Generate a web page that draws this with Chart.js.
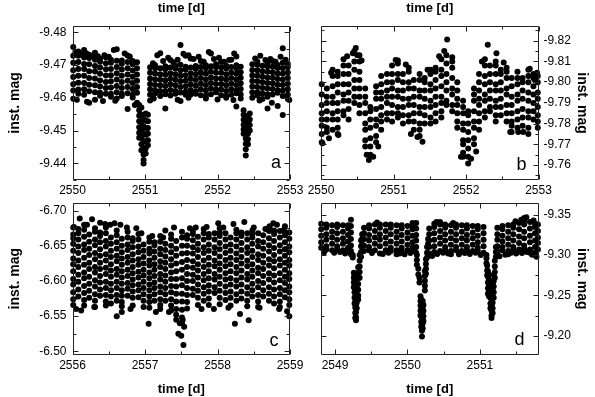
<!DOCTYPE html>
<html>
<head>
<meta charset="utf-8">
<script src="https://cdn.jsdelivr.net/npm/chart.js@4.4.1/dist/chart.umd.min.js"></script>
<style>
  html, body { margin: 0; padding: 0; background: #fff; }
  #wrap { position: relative; width: 595px; height: 397px; }
  #wrap canvas { position: absolute; left: 0; top: 0; }
</style>
</head>
<body>
<div id="wrap">
  <canvas id="panelA" width="595" height="397"></canvas>
  <canvas id="panelB" width="595" height="397"></canvas>
  <canvas id="panelC" width="595" height="397"></canvas>
  <canvas id="panelD" width="595" height="397"></canvas>
</div>
<script>
// ======================
// Panel a: time [d] vs inst. mag
// ======================
const xRangeA = [2550, 2553];
const yRangeA = [-9.4819, -9.4349];
const xTicksA = [2550, 2551, 2552, 2553];
const yTicksA = [-9.48, -9.47, -9.46, -9.45, -9.44];
const timeA = [
  2550.01, 2550.08, 2550.16, 2550.23, 2550.31, 2550.38, 2550.46, 2550.53, 2550.61, 2550.68, 2550.76, 2550.83, 2550.89,
  2550.92, 2550.95, 2550.98, 2551.01, 2551.04,
  2551.07, 2551.14, 2551.21, 2551.28, 2551.35, 2551.42, 2551.49, 2551.56, 2551.63, 2551.70, 2551.77, 2551.84, 2551.91, 2551.98, 2552.05, 2552.12, 2552.19, 2552.26, 2552.32,
  2552.36, 2552.39, 2552.42, 2552.445,
  2552.48, 2552.55, 2552.62, 2552.69, 2552.76, 2552.83, 2552.90, 2552.97
];
const magA = [
  [-9.4755, -9.4728, -9.4707, -9.4684, -9.4663, -9.4641, -9.4622, -9.4597],
  [-9.4741, -9.4728, -9.4709, -9.4688, -9.4667, -9.4646, -9.4625, -9.4612],
  [-9.4746, -9.4723, -9.4703, -9.4688, -9.4667, -9.4645, -9.4626, -9.4609],
  [-9.4731, -9.4721, -9.4702, -9.4681, -9.4660, -9.4640, -9.4620, -9.4585],
  [-9.4737, -9.4716, -9.4697, -9.4680, -9.4659, -9.4638, -9.4617, -9.4594],
  [-9.4719, -9.4710, -9.4692, -9.4673, -9.4653, -9.4634, -9.4615, -9.4606],
  [-9.4724, -9.4705, -9.4687, -9.4668, -9.4648, -9.4630, -9.4612],
  [-9.4716, -9.4707, -9.4688, -9.4669, -9.4650, -9.4631, -9.4612, -9.4603],
  [-9.4748, -9.4713, -9.4694, -9.4675, -9.4656, -9.4636, -9.4617, -9.4598],
  [-9.4714, -9.4704, -9.4686, -9.4667, -9.4648, -9.4630, -9.4612, -9.4605],
  [-9.4729, -9.4709, -9.4690, -9.4671, -9.4652, -9.4633, -9.4614, -9.4566],
  [-9.4712, -9.4702, -9.4683, -9.4664, -9.4645, -9.4627, -9.4609, -9.4601],
  [-9.4708, -9.4690, -9.4671, -9.4652, -9.4633, -9.4615, -9.4585],
  [-9.4578, -9.4562, -9.4545, -9.4528, -9.4510, -9.4493, -9.4478],
  [-9.4570, -9.4548, -9.4525, -9.4500, -9.4478, -9.4458, -9.4440],
  [-9.4535, -9.4512, -9.4490, -9.4468, -9.4447, -9.4427, -9.4410, -9.4399],
  [-9.4552, -9.4530, -9.4508, -9.4487, -9.4466, -9.4446, -9.4430],
  [-9.4548, -9.4528, -9.4508, -9.4490, -9.4470, -9.4455],
  [-9.4693, -9.4676, -9.4659, -9.4642, -9.4626, -9.4609, -9.4592],
  [-9.4699, -9.4690, -9.4673, -9.4656, -9.4639, -9.4622, -9.4614],
  [-9.4736, -9.4690, -9.4672, -9.4655, -9.4638, -9.4621, -9.4605],
  [-9.4696, -9.4687, -9.4670, -9.4653, -9.4636, -9.4619, -9.4611, -9.4567],
  [-9.4715, -9.4692, -9.4675, -9.4658, -9.4641, -9.4624, -9.4607],
  [-9.4698, -9.4689, -9.4672, -9.4655, -9.4638, -9.4621, -9.4612],
  [-9.4761, -9.4701, -9.4684, -9.4667, -9.4650, -9.4633, -9.4616, -9.4590],
  [-9.4728, -9.4695, -9.4686, -9.4669, -9.4652, -9.4635, -9.4618, -9.4609],
  [-9.4720, -9.4692, -9.4675, -9.4658, -9.4641, -9.4624, -9.4610],
  [-9.4697, -9.4688, -9.4671, -9.4654, -9.4637, -9.4620, -9.4612],
  [-9.4712, -9.4694, -9.4677, -9.4660, -9.4643, -9.4626, -9.4608],
  [-9.4699, -9.4690, -9.4673, -9.4656, -9.4639, -9.4622, -9.4606, -9.4598],
  [-9.4735, -9.4696, -9.4679, -9.4662, -9.4645, -9.4628, -9.4611],
  [-9.4702, -9.4693, -9.4676, -9.4659, -9.4642, -9.4625, -9.4617],
  [-9.4710, -9.4693, -9.4676, -9.4659, -9.4642, -9.4625, -9.4608],
  [-9.4698, -9.4689, -9.4672, -9.4655, -9.4638, -9.4621, -9.4605, -9.4600],
  [-9.4716, -9.4694, -9.4677, -9.4660, -9.4643, -9.4626, -9.4609],
  [-9.4726, -9.4699, -9.4690, -9.4673, -9.4656, -9.4639, -9.4622, -9.4614, -9.4573],
  [-9.4695, -9.4678, -9.4661, -9.4644, -9.4627, -9.4610, -9.4598],
  [-9.4562, -9.4548, -9.4533, -9.4518, -9.4503, -9.4490],
  [-9.4545, -9.4527, -9.4510, -9.4493, -9.4476, -9.4460, -9.4443, -9.4424],
  [-9.4540, -9.4522, -9.4505, -9.4490, -9.4473, -9.4458],
  [-9.4552, -9.4534, -9.4517, -9.4500],
  [-9.4702, -9.4685, -9.4668, -9.4651, -9.4634, -9.4617, -9.4600],
  [-9.4710, -9.4701, -9.4684, -9.4667, -9.4650, -9.4633, -9.4616, -9.4607],
  [-9.4698, -9.4681, -9.4664, -9.4647, -9.4630, -9.4613, -9.4596],
  [-9.4705, -9.4696, -9.4679, -9.4662, -9.4645, -9.4628, -9.4611, -9.4603, -9.4567],
  [-9.4712, -9.4695, -9.4678, -9.4661, -9.4644, -9.4627, -9.4610],
  [-9.4700, -9.4691, -9.4674, -9.4657, -9.4640, -9.4623, -9.4615, -9.4575],
  [-9.4751, -9.4707, -9.4690, -9.4673, -9.4656, -9.4639, -9.4622, -9.4605, -9.4547],
  [-9.4703, -9.4694, -9.4677, -9.4660, -9.4643, -9.4626, -9.4609, -9.4596]
];
const outTimeA = [2550.04, 2550.12, 2550.19, 2550.27, 2550.35, 2550.44, 2550.50, 2550.57, 2550.72, 2550.79,
                  2550.06, 2550.20, 2550.42, 2550.59, 2550.86, 2551.11, 2551.17, 2551.25, 2551.32, 2551.39,
                  2551.45, 2551.53, 2551.60, 2551.67, 2551.74, 2551.81, 2551.88, 2551.95, 2552.02, 2552.09,
                  2552.16, 2552.23, 2551.12, 2551.45, 2551.60, 2552.00, 2552.22, 2552.52, 2552.59, 2552.66,
                  2552.73, 2552.80, 2552.87, 2552.94, 2552.58, 2552.75, 2552.99];
const outMagA = [-9.4740, -9.4733, -9.4736, -9.4728, -9.4727, -9.4730, -9.4725, -9.4746, -9.4735, -9.4726,
                 -9.4594, -9.4588, -9.4590, -9.4591, -9.4578, -9.4705, -9.4730, -9.4712, -9.4722, -9.4708,
                 -9.4716, -9.4734, -9.4730, -9.4718, -9.4725, -9.4710, -9.4740, -9.4718, -9.4722, -9.4710,
                 -9.4715, -9.4735, -9.4598, -9.4594, -9.4600, -9.4595, -9.4593, -9.4720, -9.4728, -9.4715,
                 -9.4718, -9.4710, -9.4725, -9.4716, -9.4592, -9.4585, -9.4593];

// ======================
// Panel b
// ======================
const xRangeB = [2550, 2553];
const yRangeB = [-9.8271, -9.7528];
const xTicksB = [2550, 2551, 2552, 2553];
const yTicksB = [-9.82, -9.81, -9.80, -9.79, -9.78, -9.77, -9.76];
const timeB = [
  2550.01, 2550.08, 2550.16, 2550.23, 2550.31, 2550.38, 2550.46, 2550.53, 2550.61, 2550.68,
  2550.76, 2550.83, 2550.91, 2550.98, 2551.06, 2551.13, 2551.21, 2551.28, 2551.36, 2551.43,
  2551.51, 2551.58, 2551.66, 2551.73, 2551.81, 2551.88, 2551.96, 2552.03, 2552.11, 2552.18,
  2552.26, 2552.33, 2552.41, 2552.48, 2552.56, 2552.63, 2552.71, 2552.78, 2552.86, 2552.93, 2552.99
];
const magB = [
  [-9.799, -9.794, -9.789, -9.785, -9.782, -9.779, -9.775, -9.771],
  [-9.797, -9.793, -9.790, -9.786, -9.782, -9.778, -9.776],
  [-9.806, -9.803, -9.798, -9.793, -9.790, -9.785, -9.782, -9.777],
  [-9.805, -9.803, -9.799, -9.795, -9.790, -9.786, -9.782, -9.778, -9.775],
  [-9.811, -9.808, -9.804, -9.799, -9.794, -9.791, -9.786, -9.784],
  [-9.808, -9.804, -9.799, -9.795, -9.791, -9.787, -9.782],
  [-9.815, -9.810, -9.806, -9.801, -9.797, -9.793, -9.790],
  [-9.813, -9.810, -9.805, -9.801, -9.797, -9.793, -9.789, -9.785],
  [-9.797, -9.793, -9.790, -9.785, -9.780, -9.777, -9.772, -9.769],
  [-9.788, -9.786, -9.782, -9.778, -9.773, -9.769, -9.765],
  [-9.798, -9.795, -9.792, -9.787, -9.782, -9.779, -9.774, -9.771],
  [-9.803, -9.799, -9.795, -9.792, -9.788, -9.784, -9.781, -9.777],
  [-9.804, -9.800, -9.796, -9.793, -9.790, -9.785, -9.782],
  [-9.808, -9.804, -9.800, -9.797, -9.793, -9.789, -9.785, -9.781],
  [-9.809, -9.804, -9.801, -9.796, -9.793, -9.788, -9.785, -9.783],
  [-9.804, -9.800, -9.796, -9.792, -9.788, -9.784, -9.780],
  [-9.807, -9.805, -9.800, -9.797, -9.792, -9.789, -9.784, -9.781],
  [-9.801, -9.797, -9.793, -9.789, -9.785, -9.781, -9.777],
  [-9.804, -9.801, -9.796, -9.793, -9.788, -9.785, -9.780, -9.777, -9.774],
  [-9.802, -9.800, -9.796, -9.792, -9.788, -9.784, -9.780],
  [-9.806, -9.804, -9.799, -9.796, -9.791, -9.788, -9.783, -9.780],
  [-9.807, -9.805, -9.801, -9.797, -9.793, -9.789, -9.785, -9.781],
  [-9.811, -9.806, -9.803, -9.798, -9.793, -9.790, -9.786, -9.783],
  [-9.813, -9.809, -9.804, -9.800, -9.796, -9.791, -9.789],
  [-9.812, -9.810, -9.807, -9.802, -9.797, -9.794, -9.789, -9.786],
  [-9.800, -9.796, -9.792, -9.789, -9.785, -9.781, -9.778],
  [-9.791, -9.788, -9.785, -9.780, -9.777, -9.772, -9.770, -9.766, -9.764],
  [-9.786, -9.784, -9.780, -9.776, -9.772, -9.768, -9.764],
  [-9.797, -9.794, -9.791, -9.786, -9.781, -9.778, -9.773, -9.770],
  [-9.804, -9.800, -9.796, -9.792, -9.789, -9.785, -9.781, -9.777],
  [-9.811, -9.808, -9.803, -9.799, -9.794, -9.791, -9.786, -9.783],
  [-9.808, -9.804, -9.800, -9.796, -9.792, -9.788, -9.786],
  [-9.810, -9.808, -9.804, -9.799, -9.796, -9.791, -9.788, -9.784, -9.781],
  [-9.806, -9.804, -9.800, -9.796, -9.792, -9.788, -9.784],
  [-9.807, -9.805, -9.802, -9.797, -9.794, -9.789, -9.785, -9.781],
  [-9.802, -9.798, -9.793, -9.789, -9.785, -9.781, -9.779, -9.776],
  [-9.805, -9.802, -9.799, -9.794, -9.791, -9.786, -9.782, -9.778],
  [-9.802, -9.800, -9.796, -9.792, -9.787, -9.783, -9.779],
  [-9.806, -9.803, -9.800, -9.795, -9.791, -9.786, -9.783, -9.778, -9.775],
  [-9.804, -9.802, -9.798, -9.794, -9.790, -9.786, -9.782],
  [-9.803, -9.800, -9.795, -9.792, -9.788, -9.784, -9.781, -9.778]
];
const outTimeB = [2550.02, 2550.11, 2550.24, 2550.48, 2550.66, 2550.50, 2551.03, 2551.06, 2551.33, 2551.40,
                  2551.74, 2551.70, 2552.03, 2552.30, 2552.42, 2552.79, 2552.72, 2550.44, 2552.95, 2550.14,
                  2550.36, 2550.56, 2550.63, 2550.72, 2550.79, 2551.17, 2551.24, 2551.47, 2551.63, 2551.93,
                  2552.07, 2552.14, 2552.22, 2552.52, 2552.61, 2552.88, 2552.98];
const outMagB = [-9.7705, -9.7730, -9.7745, -9.8165, -9.7624, -9.8130, -9.8107, -9.8105, -9.7735, -9.7713,
                 -9.8206, -9.8150, -9.7608, -9.8180, -9.8140, -9.7760, -9.7760, -9.8140, -9.8010, -9.8045,
                 -9.8125, -9.8105, -9.7650, -9.7640, -9.7690, -9.8085, -9.7750, -9.8060, -9.8125, -9.7640,
                 -9.7630, -9.7665, -9.8100, -9.8095, -9.7760, -9.8065, -9.8045];

// ======================
// Panel c
// ======================
const xRangeC = [2556, 2559];
const yRangeC = [-6.7117, -6.4947];
const xTicksC = [2556, 2557, 2558, 2559];
const yTicksC = [-6.70, -6.65, -6.60, -6.55, -6.50];
const timeC = [
  2556.01, 2556.08, 2556.16, 2556.23, 2556.31, 2556.38, 2556.46, 2556.53, 2556.61, 2556.68,
  2556.76, 2556.83, 2556.91, 2556.98, 2557.06, 2557.13, 2557.21, 2557.28, 2557.36, 2557.43,
  2557.51, 2557.58, 2557.66, 2557.73, 2557.81, 2557.88, 2557.96, 2558.03, 2558.11, 2558.18,
  2558.26, 2558.33, 2558.41, 2558.48, 2558.56, 2558.63, 2558.71, 2558.78, 2558.86, 2558.93, 2558.99
];
const magC = [
  [-6.676, -6.666, -6.661, -6.653, -6.643, -6.632, -6.624, -6.614, -6.603, -6.595, -6.584, -6.574, -6.566],
  [-6.674, -6.668, -6.659, -6.649, -6.640, -6.629, -6.620, -6.609, -6.599, -6.588, -6.578],
  [-6.680, -6.673, -6.663, -6.652, -6.644, -6.633, -6.623, -6.612, -6.604, -6.593, -6.583, -6.573, -6.565],
  [-6.666, -6.656, -6.646, -6.637, -6.626, -6.617, -6.606, -6.596, -6.586, -6.576],
  [-6.675, -6.670, -6.659, -6.651, -6.640, -6.631, -6.620, -6.612, -6.601, -6.592, -6.581, -6.572, -6.563],
  [-6.669, -6.664, -6.655, -6.645, -6.636, -6.626, -6.617, -6.607, -6.598, -6.588, -6.579],
  [-6.676, -6.668, -6.657, -6.649, -6.638, -6.629, -6.619, -6.610, -6.599, -6.590, -6.580, -6.571, -6.565],
  [-6.662, -6.653, -6.643, -6.634, -6.624, -6.615, -6.606, -6.596, -6.587, -6.578, -6.568],
  [-6.672, -6.665, -6.655, -6.646, -6.636, -6.628, -6.617, -6.609, -6.599, -6.590, -6.580, -6.572],
  [-6.660, -6.650, -6.641, -6.632, -6.623, -6.614, -6.605, -6.596, -6.587, -6.579, -6.570, -6.564],
  [-6.670, -6.662, -6.652, -6.644, -6.634, -6.626, -6.616, -6.607, -6.597, -6.589, -6.579],
  [-6.661, -6.657, -6.648, -6.638, -6.629, -6.620, -6.611, -6.602, -6.594, -6.585, -6.576, -6.565],
  [-6.667, -6.659, -6.649, -6.641, -6.631, -6.623, -6.613, -6.605, -6.595, -6.587, -6.577],
  [-6.652, -6.643, -6.634, -6.625, -6.616, -6.608, -6.599, -6.590, -6.581, -6.572, -6.563],
  [-6.662, -6.656, -6.646, -6.639, -6.629, -6.622, -6.612, -6.604, -6.595, -6.587, -6.578, -6.570, -6.562],
  [-6.655, -6.651, -6.642, -6.633, -6.624, -6.616, -6.607, -6.598, -6.590, -6.581, -6.572],
  [-6.664, -6.656, -6.646, -6.638, -6.628, -6.620, -6.610, -6.602, -6.592, -6.584, -6.574, -6.566, -6.560],
  [-6.653, -6.644, -6.635, -6.626, -6.617, -6.608, -6.599, -6.590, -6.581, -6.572],
  [-6.666, -6.660, -6.650, -6.641, -6.631, -6.622, -6.612, -6.603, -6.593, -6.584, -6.574, -6.565, -6.558],
  [-6.657, -6.646, -6.636, -6.625, -6.614, -6.603, -6.592, -6.582, -6.571, -6.560, -6.552, -6.545],
  [-6.670, -6.662, -6.650, -6.639, -6.627, -6.616, -6.604, -6.594, -6.582, -6.571, -6.559, -6.548, -6.540],
  [-6.665, -6.660, -6.650, -6.640, -6.630, -6.620, -6.610, -6.600, -6.590, -6.580, -6.570, -6.561],
  [-6.671, -6.667, -6.658, -6.648, -6.639, -6.628, -6.619, -6.609, -6.600, -6.589, -6.580],
  [-6.663, -6.653, -6.644, -6.634, -6.624, -6.615, -6.605, -6.595, -6.586, -6.576, -6.566],
  [-6.674, -6.668, -6.659, -6.648, -6.640, -6.629, -6.620, -6.610, -6.601, -6.591, -6.582, -6.572],
  [-6.667, -6.662, -6.652, -6.643, -6.633, -6.623, -6.614, -6.604, -6.594, -6.585, -6.575, -6.566],
  [-6.668, -6.659, -6.648, -6.640, -6.629, -6.621, -6.610, -6.602, -6.591, -6.583],
  [-6.675, -6.669, -6.664, -6.654, -6.645, -6.635, -6.625, -6.616, -6.606, -6.596, -6.586, -6.576, -6.567],
  [-6.668, -6.659, -6.649, -6.640, -6.630, -6.621, -6.611, -6.602, -6.592, -6.583, -6.573],
  [-6.662, -6.652, -6.643, -6.633, -6.624, -6.614, -6.604, -6.595, -6.585, -6.576, -6.565],
  [-6.673, -6.668, -6.659, -6.649, -6.639, -6.630, -6.620, -6.611, -6.601, -6.592, -6.581, -6.572],
  [-6.669, -6.664, -6.654, -6.644, -6.634, -6.625, -6.615, -6.605, -6.595, -6.585, -6.575],
  [-6.668, -6.659, -6.648, -6.640, -6.629, -6.621, -6.610, -6.602, -6.591, -6.582, -6.572, -6.564],
  [-6.672, -6.667, -6.662, -6.653, -6.643, -6.634, -6.624, -6.615, -6.606, -6.596, -6.587, -6.578],
  [-6.668, -6.657, -6.649, -6.638, -6.630, -6.619, -6.611, -6.600, -6.591, -6.580, -6.571, -6.563],
  [-6.665, -6.655, -6.646, -6.636, -6.626, -6.617, -6.607, -6.597, -6.587, -6.578],
  [-6.676, -6.671, -6.661, -6.651, -6.642, -6.631, -6.622, -6.611, -6.602, -6.591, -6.582, -6.572],
  [-6.672, -6.667, -6.657, -6.647, -6.637, -6.628, -6.618, -6.608, -6.598, -6.588, -6.578, -6.568],
  [-6.671, -6.662, -6.651, -6.642, -6.631, -6.622, -6.611, -6.601, -6.590, -6.581, -6.571, -6.563],
  [-6.678, -6.670, -6.665, -6.655, -6.645, -6.636, -6.626, -6.616, -6.606, -6.597, -6.587, -6.577],
  [-6.669, -6.660, -6.649, -6.641, -6.630, -6.622, -6.611, -6.603, -6.592, -6.584, -6.574, -6.566]
];
const outTimeC = [2556.02, 2556.05, 2556.10, 2556.12, 2556.20, 2556.27, 2556.30, 2556.38, 2556.45, 2556.52,
                  2556.58, 2556.61, 2556.66, 2556.68, 2556.75, 2556.80, 2556.88, 2556.95, 2557.05, 2557.10,
                  2557.15, 2557.25, 2557.28, 2557.33, 2557.40, 2557.46, 2557.50, 2557.53, 2557.54, 2557.48,
                  2557.52, 2557.62, 2557.70, 2557.78, 2557.85, 2557.95, 2558.01, 2558.08, 2558.15, 2558.22,
                  2558.24, 2558.31, 2558.37, 2558.43, 2558.50, 2558.58, 2558.66, 2558.72, 2558.77, 2558.82,
                  2558.85, 2558.90, 2558.96, 2558.99];
const outMagC = [-6.677, -6.560, -6.689, -6.558, -6.680, -6.688, -6.563, -6.683, -6.681, -6.680,
                 -6.682, -6.550, -6.680, -6.556, -6.676, -6.560, -6.675, -6.668, -6.539, -6.664,
                 -6.556, -6.662, -6.672, -6.556, -6.676, -6.525, -6.522, -6.509, -6.535, -6.540,
                 -6.545, -6.675, -6.676, -6.560, -6.677, -6.560, -6.682, -6.676, -6.562, -6.681,
                 -6.539, -6.553, -6.684, -6.544, -6.676, -6.562, -6.674, -6.678, -6.682, -6.680,
                 -6.560, -6.672, -6.557, -6.550];

// ======================
// Panel d
// ======================
const xRangeD = [2548.807, 2551.808];
const yRangeD = [-9.3653, -9.176];
const xTicksD = [2549, 2550, 2551];
const yTicksD = [-9.35, -9.30, -9.25, -9.20];
const timeD = [
  2548.81, 2548.88, 2548.96, 2549.03, 2549.11, 2549.18, 2549.22,
  2549.245, 2549.26, 2549.27, 2549.28, 2549.29, 2549.30, 2549.32, 2549.34, 2549.36, 2549.375,
  2549.40, 2549.47, 2549.55, 2549.62, 2549.70, 2549.77, 2549.85, 2549.92, 2550.00, 2550.07, 2550.12,
  2550.13, 2550.15, 2550.165, 2550.18, 2550.19, 2550.20, 2550.21, 2550.22, 2550.24, 2550.255, 2550.27, 2550.285,
  2550.30, 2550.37, 2550.45, 2550.52, 2550.60, 2550.67, 2550.75, 2550.82, 2550.90, 2550.97, 2551.05,
  2551.09, 2551.10, 2551.11, 2551.125, 2551.145, 2551.16, 2551.175, 2551.19, 2551.205, 2551.22,
  2551.24, 2551.31, 2551.39, 2551.46, 2551.54, 2551.61, 2551.69, 2551.76, 2551.80
];
const magD = [
  [-9.339, -9.332, -9.324, -9.316, -9.309],
  [-9.338, -9.334, -9.326, -9.319, -9.311, -9.307],
  [-9.337, -9.329, -9.322, -9.314, -9.306],
  [-9.338, -9.335, -9.327, -9.319, -9.311, -9.307],
  [-9.337, -9.329, -9.321, -9.314, -9.306],
  [-9.337, -9.333, -9.325, -9.317, -9.309, -9.305],
  [-9.344, -9.336, -9.328, -9.320, -9.312, -9.305, -9.301],
  [-9.300, -9.297],
  [-9.278, -9.272, -9.266, -9.260],
  [-9.275, -9.268, -9.261, -9.254, -9.247, -9.240],
  [-9.256, -9.249, -9.242, -9.235, -9.228, -9.222],
  [-9.250, -9.243, -9.236, -9.229, -9.223, -9.219],
  [-9.262, -9.255, -9.248, -9.241, -9.234],
  [-9.285, -9.278, -9.271, -9.264, -9.257, -9.250, -9.245],
  [-9.300, -9.293, -9.286, -9.279, -9.272],
  [-9.318, -9.311, -9.304, -9.298],
  [-9.326, -9.320, -9.313],
  [-9.334, -9.327, -9.320, -9.312, -9.305],
  [-9.337, -9.333, -9.325, -9.318, -9.310, -9.306],
  [-9.338, -9.330, -9.322, -9.314, -9.306],
  [-9.338, -9.334, -9.326, -9.319, -9.311, -9.302],
  [-9.338, -9.330, -9.322, -9.314, -9.306],
  [-9.338, -9.334, -9.326, -9.317, -9.309, -9.305],
  [-9.337, -9.329, -9.322, -9.314, -9.306, -9.301],
  [-9.337, -9.333, -9.325, -9.317, -9.309, -9.305],
  [-9.336, -9.328, -9.321, -9.313, -9.306],
  [-9.340, -9.336, -9.332, -9.324, -9.316, -9.309, -9.305],
  [-9.340, -9.333, -9.325, -9.318, -9.310, -9.303],
  [-9.300, -9.294, -9.288],
  [-9.283, -9.276],
  [-9.272, -9.266],
  [-9.249, -9.243, -9.237, -9.231, -9.225],
  [-9.245, -9.238, -9.231, -9.224, -9.217, -9.211],
  [-9.240, -9.233, -9.226, -9.219, -9.212, -9.206, -9.199],
  [-9.243, -9.236, -9.229, -9.222, -9.215, -9.209],
  [-9.238, -9.231, -9.224, -9.218],
  [-9.280, -9.274, -9.268, -9.262, -9.256],
  [-9.295, -9.289, -9.283, -9.277],
  [-9.310, -9.303, -9.297],
  [-9.320, -9.314],
  [-9.333, -9.326, -9.318, -9.310, -9.302],
  [-9.339, -9.335, -9.327, -9.319, -9.311, -9.304],
  [-9.341, -9.338, -9.330, -9.322, -9.314, -9.305],
  [-9.338, -9.334, -9.326, -9.318, -9.310, -9.306],
  [-9.337, -9.329, -9.321, -9.313, -9.305, -9.301],
  [-9.338, -9.334, -9.326, -9.318, -9.310, -9.306],
  [-9.337, -9.329, -9.321, -9.313, -9.305],
  [-9.337, -9.333, -9.325, -9.318, -9.310, -9.306],
  [-9.336, -9.328, -9.321, -9.313, -9.305],
  [-9.336, -9.332, -9.324, -9.316, -9.309, -9.305],
  [-9.335, -9.327, -9.319, -9.311, -9.303],
  [-9.300, -9.296, -9.290],
  [-9.287, -9.281, -9.275],
  [-9.280, -9.273, -9.266, -9.259, -9.252],
  [-9.276, -9.269, -9.262, -9.255, -9.249],
  [-9.268, -9.261, -9.254, -9.247, -9.240, -9.234],
  [-9.260, -9.252, -9.245, -9.238, -9.231, -9.225, -9.222],
  [-9.265, -9.257, -9.249, -9.241, -9.234, -9.228],
  [-9.275, -9.268, -9.261, -9.254, -9.247],
  [-9.293, -9.286, -9.279, -9.272],
  [-9.310, -9.304, -9.298],
  [-9.334, -9.326, -9.319, -9.311, -9.305, -9.301],
  [-9.336, -9.332, -9.324, -9.317, -9.310, -9.306],
  [-9.337, -9.329, -9.321, -9.313, -9.305, -9.301],
  [-9.338, -9.334, -9.326, -9.318, -9.310, -9.306],
  [-9.340, -9.332, -9.323, -9.315, -9.307],
  [-9.346, -9.343, -9.338, -9.329, -9.321, -9.312, -9.308],
  [-9.341, -9.333, -9.324, -9.316, -9.307, -9.303],
  [-9.339, -9.335, -9.327, -9.318, -9.310, -9.303],
  [-9.338, -9.330, -9.322, -9.315, -9.307]
];
const outTimeD = [2548.85, 2548.99, 2549.07, 2549.14, 2549.51, 2549.66, 2549.74, 2549.89, 2549.96, 2550.04,
                  2550.34, 2550.41, 2550.49, 2550.56, 2550.71, 2550.79, 2550.86, 2550.94, 2551.01, 2551.27,
                  2551.35, 2551.43, 2551.50, 2551.58, 2551.65, 2551.72, 2551.78, 2549.58, 2550.40, 2550.63,
                  2551.49, 2551.57, 2551.64, 2551.74];
const outMagD = [-9.3035, -9.3030, -9.3040, -9.3020, -9.3025, -9.3015, -9.3030, -9.3020, -9.3010, -9.3025,
                 -9.2990, -9.3015, -9.3030, -9.3020, -9.3010, -9.3025, -9.3015, -9.3030, -9.3000, -9.2985,
                 -9.3005, -9.3030, -9.3020, -9.3025, -9.3040, -9.3005, -9.2980, -9.3405, -9.3410, -9.3400,
                 -9.3420, -9.3440, -9.3470, -9.3430];

// ========== Helpers ==========
Chart.defaults.font.family = "'Liberation Sans', Arial, sans-serif";
Chart.defaults.color = '#000';

function buildPoints(times, mags, extraT, extraM) {
  const pts = [];
  times.forEach((t, i) => (mags[i] || []).forEach(m => pts.push({x: t, y: m})));
  (extraT || []).forEach((t, i) => {
    if (extraM[i] !== undefined) pts.push({x: t, y: extraM[i]});
  });
  return pts;
}

// tick positions (major + minor) in a value range
function tickMarks(min, max, step, majors) {
  const out = [];
  const lo = Math.min(min, max), hi = Math.max(min, max);
  for (let k = Math.ceil(lo / step - 1e-6); k * step <= hi + 1e-9; k++) {
    const v = k * step;
    out.push([v, majors.some(m => Math.abs(m - v) < step / 10)]);
  }
  return out;
}

// frame, inward ticks on all four sides, panel letter
const framePlugin = {
  id: 'panelFrame',
  afterDraw(chart, args, opts) {
    const {ctx, chartArea: area} = chart;
    const xs = chart.scales.x, ys = chart.scales.y;
    const L = Math.round(area.left) + 0.5, R = Math.round(area.right) - 0.5;
    const T = Math.round(area.top) + 0.5, B = Math.round(area.bottom) - 0.5;
    ctx.save();
    ctx.strokeStyle = '#222';
    ctx.lineWidth = 1;
    ctx.beginPath();
    ctx.rect(L, T, R - L, B - T);
    tickMarks(xs.min, xs.max, opts.xMinor, opts.xMajor).forEach(([v, big]) => {
      const p = Math.round(xs.getPixelForValue(v)) + 0.5;
      const len = big ? 5 : 3;
      ctx.moveTo(p, B); ctx.lineTo(p, B - len);
      ctx.moveTo(p, T); ctx.lineTo(p, T + len);
    });
    tickMarks(ys.min, ys.max, opts.yMinor, opts.yMajor).forEach(([v, big]) => {
      const p = Math.round(ys.getPixelForValue(v)) + 0.5;
      const len = big ? 5 : 3;
      ctx.moveTo(L, p); ctx.lineTo(L + len, p);
      ctx.moveTo(R, p); ctx.lineTo(R - len, p);
    });
    ctx.stroke();
    ctx.fillStyle = '#000';
    ctx.font = "18px 'Liberation Sans', Arial, sans-serif";
    ctx.textAlign = 'center';
    ctx.textBaseline = 'alphabetic';
    ctx.fillText(opts.letter, area.right - opts.letterDx, area.bottom - opts.letterDy);
    ctx.restore();
  }
};

function drawPanel(p) {
  const left = p.side === 'left';
  const top = p.row === 'top';
  const scales = {
    x: {
      type: 'linear', position: 'bottom',
      min: p.xRange[0], max: p.xRange[1],
      grid: {display: false, drawTicks: false}, border: {display: false},
      ticks: {padding: 3, maxRotation: 0, autoSkip: false, font: {size: 12}, callback: v => String(v)},
      afterBuildTicks: s => { s.ticks = p.xTicks.map(v => ({value: v})); },
      afterFit: s => { s.height = top ? 20 : 42; },
      title: {display: !top, text: 'time [d]', font: {size: 13, weight: 'bold'}, padding: {top: 0, bottom: 0}}
    },
    y: {
      type: 'linear', position: left ? 'left' : 'right', reverse: true,
      min: p.yRange[0], max: p.yRange[1],
      grid: {display: false, drawTicks: false}, border: {display: false},
      ticks: {padding: left ? 6 : 5, font: {size: 12}, callback: v => Number(v).toFixed(2)},
      afterBuildTicks: s => { s.ticks = p.yTicks.map(v => ({value: v})); },
      afterFit: s => { s.width = left ? 70 : 55.5; },
      title: {display: true, text: 'inst. mag', font: {size: 14, weight: 'bold'}, padding: {top: 4, bottom: 4}}
    }
  };
  if (top) {
    scales.xTop = {
      type: 'linear', position: 'top',
      min: p.xRange[0], max: p.xRange[1],
      grid: {display: false, drawTicks: false}, border: {display: false},
      ticks: {display: false},
      afterFit: s => { s.height = 26; },
      title: {display: true, text: 'time [d]', font: {size: 13, weight: 'bold'}, padding: {top: 1, bottom: 0}}
    };
  }
  new Chart(document.getElementById(p.id), {
    type: 'scatter',
    data: {
      datasets: [{
        data: buildPoints(p.times, p.mags, p.outT, p.outM),
        pointRadius: 3,
        pointBackgroundColor: '#000',
        pointBorderWidth: 0,
        clip: false
      }]
    },
    options: {
      responsive: false,
      animation: false,
      events: [],
      layout: {
        padding: {
          left: left ? 2.5 : 321,
          right: left ? 305 : 1,
          top: top ? 0 : 202.5,
          bottom: top ? 197 : 0
        }
      },
      plugins: {
        legend: {display: false},
        tooltip: {enabled: false},
        panelFrame: {
          xMajor: p.xTicks, xMinor: 0.5,
          yMajor: p.yTicks, yMinor: p.yMinor,
          letter: p.letter, letterDx: p.letterDx, letterDy: p.letterDy
        }
      },
      scales: scales
    },
    plugins: [framePlugin]
  });
}

// =============================
// Draw the four panels
// =============================
drawPanel({id: 'panelA', side: 'left', row: 'top', times: timeA, mags: magA, outT: outTimeA, outM: outMagA,
  xRange: xRangeA, yRange: yRangeA, xTicks: xTicksA, yTicks: yTicksA, yMinor: 0.005,
  letter: 'a', letterDx: 14, letterDy: 12});
drawPanel({id: 'panelB', side: 'right', row: 'top', times: timeB, mags: magB, outT: outTimeB, outM: outMagB,
  xRange: xRangeB, yRange: yRangeB, xTicks: xTicksB, yTicks: yTicksB, yMinor: 0.005,
  letter: 'b', letterDx: 17, letterDy: 10});
drawPanel({id: 'panelC', side: 'left', row: 'bottom', times: timeC, mags: magC, outT: outTimeC, outM: outMagC,
  xRange: xRangeC, yRange: yRangeC, xTicks: xTicksC, yTicks: yTicksC, yMinor: 0.025,
  letter: 'c', letterDx: 16, letterDy: 9});
drawPanel({id: 'panelD', side: 'right', row: 'bottom', times: timeD, mags: magD, outT: outTimeD, outM: outMagD,
  xRange: xRangeD, yRange: yRangeD, xTicks: xTicksD, yTicks: yTicksD, yMinor: 0.025,
  letter: 'd', letterDx: 19, letterDy: 10});
</script>
</body>
</html>
